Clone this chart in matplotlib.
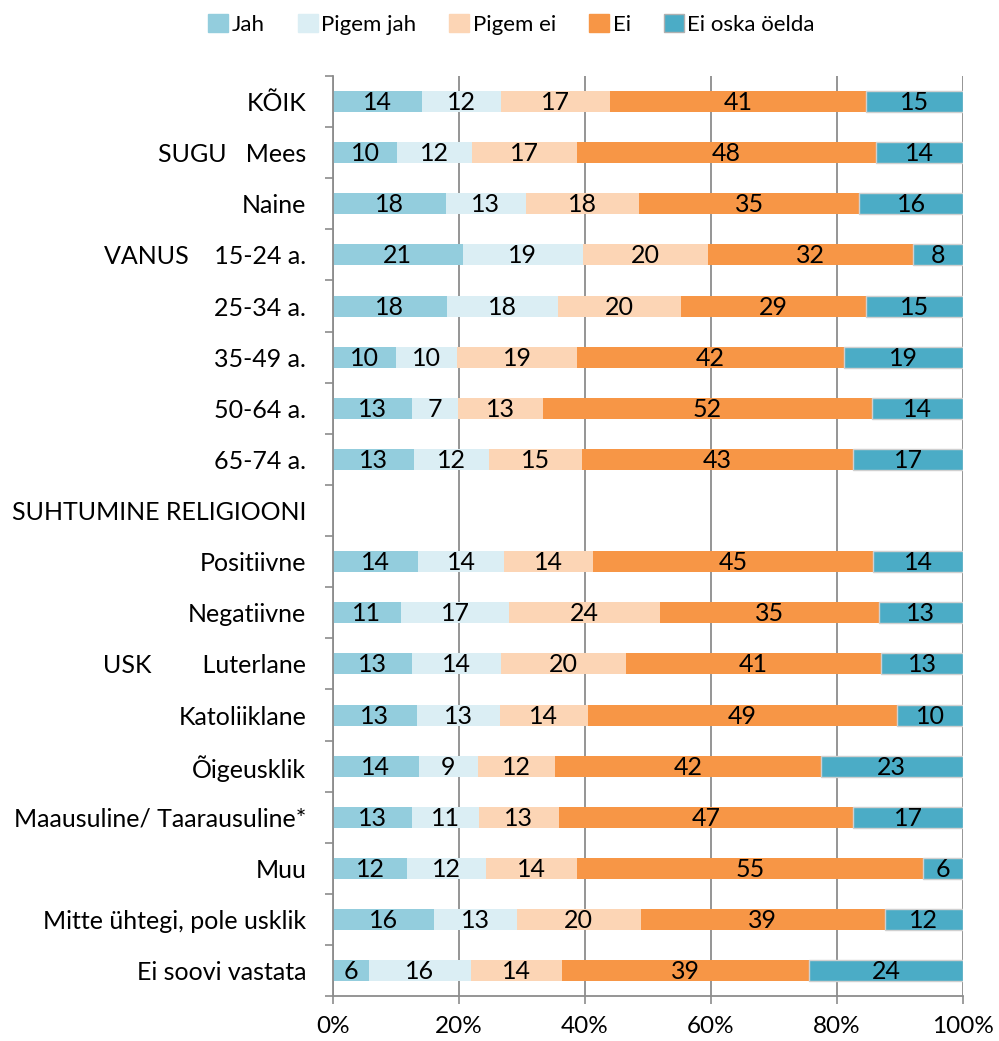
import matplotlib.pyplot as plt
import numpy as np
from matplotlib.patches import Patch

plt.rcParams['font.family'] = ['Lato', 'DejaVu Sans']

rows = ["KÕIK", "SUGU   Mees", "Naine", "VANUS    15-24 a.", "25-34 a.", "35-49 a.",
        "50-64 a.", "65-74 a.", "SUHTUMINE RELIGIOONI", "Positiivne", "Negatiivne",
        "USK        Luterlane", "Katoliiklane", "Õigeusklik", "Maausuline/ Taarausuline*",
        "Muu", "Mitte ühtegi, pole usklik", "Ei soovi vastata"]

series = ["Jah", "Pigem jah", "Pigem ei", "Ei", "Ei oska öelda"]
colors = ["#93CDDD", "#DBEEF4", "#FCD5B5", "#F79646", "#4BACC6"]

nan = np.nan
jah       = [14.2, 10.3, 17.9, 20.6, 18.2, 10.1, 12.6, 12.8, nan, 13.6, 10.8, 12.6, 13.3, 13.7, 12.6, 11.8, 16.1, 5.7]
pigem_jah = [12.4, 11.9, 12.7, 19.1, 17.6, 9.6, 7.3, 11.9, nan, 13.7, 17.2, 14.1, 13.1, 9.3, 10.6, 12.4, 13.1, 16.2]
pigem_ei  = [17.3, 16.7, 17.9, 19.9, 19.6, 19.1, 13.4, 14.7, nan, 14.2, 24.0, 19.9, 13.9, 12.3, 12.6, 14.4, 19.6, 14.4]
ei        = [40.6, 47.6, 34.9, 32.4, 29.4, 42.3, 52.1, 43.0, nan, 44.6, 34.6, 40.6, 48.9, 42.1, 46.7, 54.6, 38.7, 39.2]
ei_oska   = [15.4, 13.8, 16.4, 8.0, 15.4, 18.9, 14.4, 17.4, nan, 14.3, 13.4, 13.0, 10.4, 22.6, 17.4, 6.4, 12.4, 24.4]

data = np.array([jah, pigem_jah, pigem_ei, ei, ei_oska])
shares = data / np.nansum(data, axis=0) * 100

fig = plt.figure(figsize=(9.99, 10.41), dpi=100)
ax = fig.add_axes([0.333, 0.043, 0.631, 0.884])

y = np.arange(len(rows))
left = np.zeros(len(rows))
for i, name in enumerate(series):
  w = shares[i]
  edge = "#d0d0d0" if i == 4 else "none"
  ax.barh(y, w, left=left, height=0.41, color=colors[i], label=name,
          edgecolor=edge, linewidth=1, zorder=2)
  for yy, ww, ll, v in zip(y, w, left, data[i]):
    if np.isnan(ww):
      continue
    ax.text(ll + ww / 2, yy + 0.02, f"{v:.0f}", ha="center", va="center", fontsize=18,
            color="black", zorder=3)
  left = left + np.nan_to_num(w)

ax.set_xlim(0, 100)
ax.set_ylim(len(rows) - 0.5, -0.5)
ax.set_xticks(np.arange(0, 101, 20))
ax.set_xticklabels([f"{v}%" for v in range(0, 101, 20)], fontsize=17.5)
ax.set_yticks(y)
ax.set_yticklabels(rows, fontsize=18)
ax.set_yticks(np.arange(-0.5, len(rows), 1), minor=True)
ax.tick_params(axis="y", which="major", length=0, pad=19)
ax.tick_params(axis="y", which="minor", length=6, color="#8c8c8c", width=1.2, direction="out")
ax.tick_params(axis="x", length=6, color="#8c8c8c", width=1.2, direction="out", pad=8)

ax.grid(axis="x", color="#8c8c8c", linewidth=1.3, zorder=0)
ax.set_axisbelow(True)
for s in ["top", "right"]:
  ax.spines[s].set_visible(False)
for s in ["left", "bottom"]:
  ax.spines[s].set_color("#8c8c8c")
  ax.spines[s].set_linewidth(1.3)

handles = [Patch(facecolor=c, edgecolor=("#b0b0b0" if i == 4 else c)) for i, c in enumerate(colors)]
fig.legend(handles, series, loc="upper center", bbox_to_anchor=(0.512, 1.006), ncol=5,
           frameon=False, fontsize=16, handlelength=0.9, handleheight=0.9,
           handletextpad=0.15, columnspacing=1.5)

fig.savefig("out.png", dpi=100)
